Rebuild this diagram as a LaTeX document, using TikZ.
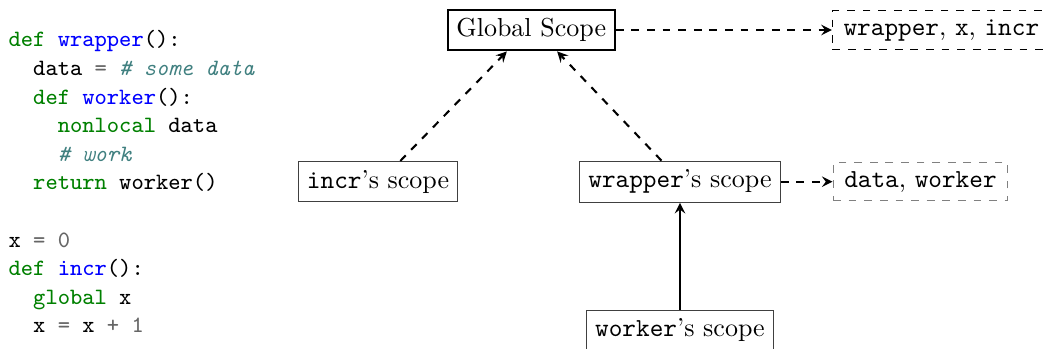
\documentclass[tikz,border=0pt]{standalone}
\usepackage{tikz}
\usetikzlibrary{arrows,positioning}
\definecolor{kwgreen}{HTML}{008000}
\definecolor{fnblue}{HTML}{0000FF}
\definecolor{cmteal}{HTML}{408080}
\definecolor{opgray}{HTML}{666666}
\newcommand{\kw}[1]{\textcolor{kwgreen}{#1}}
\newcommand{\fn}[1]{\textcolor{fnblue}{#1}}
\newcommand{\op}[1]{\textcolor{opgray}{#1}}
\newcommand{\cm}[1]{\textcolor{cmteal}{\itshape #1}}
\newcommand{\ind}{\phantom{xx}}

\begin{document}
\begin{tikzpicture}[>=stealth, auto,
    scopebox/.style={draw=black!75, rectangle},
    varbox/.style={draw, dashed, rectangle, inner xsep=4.3pt}]
  \useasboundingbox (0,0) rectangle (14.11,4.716);
  \clip (0,0) rectangle (14.11,4.716);

  % Code
  \node (code) [anchor=north west, inner sep=0pt, align=left, font=\small\ttfamily]
    at (0.11,4.31) {%
    \kw{def} \fn{wrapper}():\\
    \ind data \op{=} \cm{\# some data}\\
    \ind\kw{def} \fn{worker}():\\
    \ind\ind\kw{nonlocal} data\\
    \ind\ind\cm{\# work}\\
    \ind\kw{return} worker()\\
    \mbox{}\\
    x \op{=} \op{0}\\
    \kw{def} \fn{incr}():\\
    \ind\kw{global} x\\
    \ind x \op{=} x \op{+ 1}};

  % Scopes
  \node (global) [draw, thick, rectangle] at (7.18,4.31) {Global Scope};
  \node (incr) [scopebox] at (5.11,2.26) {\texttt{incr}'s scope};
  \node (wrapper) [scopebox] at (9.19,2.26) {\texttt{wrapper}'s scope};
  \node (worker) [scopebox] at (9.19,0.25) {\texttt{worker}'s scope};

  % Names in each scope
  \node (gvars) [varbox, right=2.92cm of global] {\texttt{wrapper}, \texttt{x}, \texttt{incr}};
  \node (wvars) [varbox, draw=gray, right=0.70cm of wrapper] {\texttt{data}, \texttt{worker}};

  % Arrows
  \draw[->, thick, dashed] ([xshift=0.3cm]incr.north) -- ([xshift=-0.33cm]global.south);
  \draw[->, thick, dashed] ([xshift=-0.25cm]wrapper.north) -- ([xshift=0.35cm]global.south);
  \draw[->, thick] (worker) -- (wrapper);
  \draw[->, thick, dashed] (global) -- (gvars);
  \draw[->, thick, dashed] (wrapper) -- (wvars);
\end{tikzpicture}
\end{document}
